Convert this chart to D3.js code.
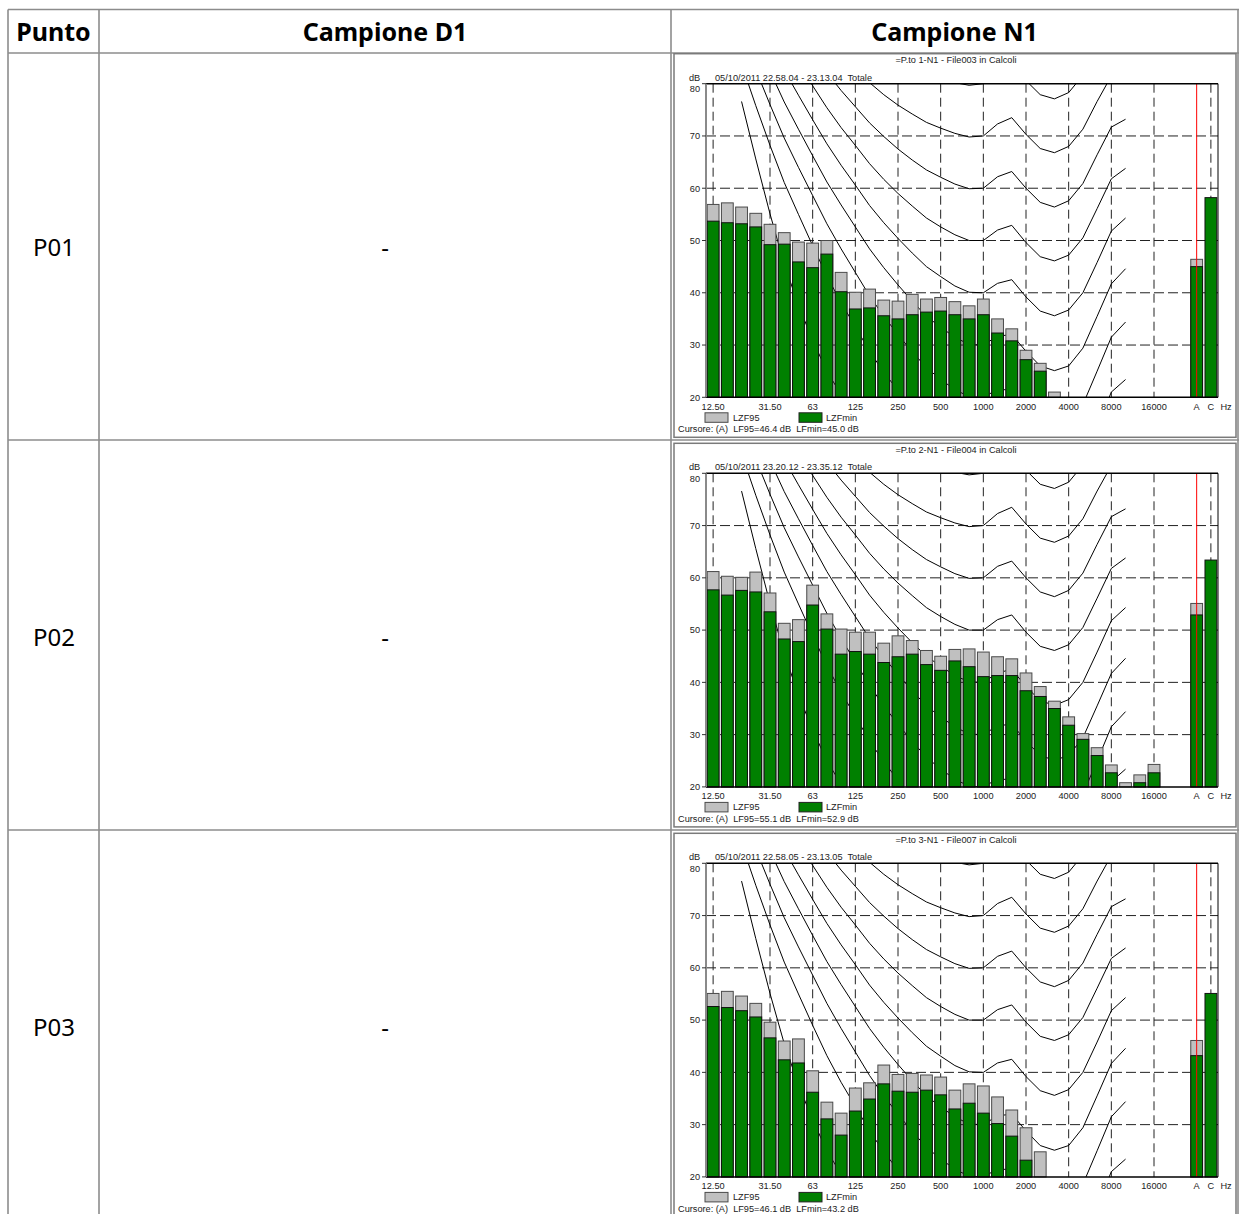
<!DOCTYPE html>
<html lang="it">
<head>
<meta charset="UTF-8">
<title>Campione N1 - spettri</title>
<script src="https://d3js.org/d3.v7.min.js"></script>
<style>
  body { margin: 0; background: #fff; }
  svg { display: block; }
  .hdr { font-family: "Noto Sans", sans-serif; font-weight: bold; font-size: 25px; fill: #000; }
  .cell { font-family: "Noto Sans", sans-serif; font-size: 24px; fill: #000; }
  .small { font-family: "Liberation Sans", Arial, sans-serif; font-size: 9.2px; fill: #222; white-space: pre; }
</style>
</head>
<body>
<svg id="page" width="1239" height="1214"></svg>
<script>
// third-octave bands 12.5 Hz .. 20 kHz (index 0..32), then overall A (34) and C (35)
const bands = ["12.5","16","20","25","31.5","40","50","63","80","100","125","160","200","250","315","400","500","630","800","1000","1250","1600","2000","2500","3150","4000","5000","6300","8000","10000","12500","16000","20000"];
const tickIdx  = [0, 4, 7, 10, 13, 16, 19, 22, 25, 28, 31, 34, 35];
const tickText = ["12.50","31.50","63","125","250","500","1000","2000","4000","8000","16000","A","C"];
const gridIdx  = [0, 4, 7, 10, 13, 16, 19, 22, 25, 28, 31, 35];
const yTicks   = [20, 30, 40, 50, 60, 70, 80];

const points  = ["P01", "P02", "P03"];
const titles  = ["=P.to 1-N1 - File003 in Calcoli", "=P.to 2-N1 - File004 in Calcoli", "=P.to 3-N1 - File007 in Calcoli"];
const periods = ["05/10/2011 22.58.04 - 23.13.04", "05/10/2011 23.20.12 - 23.35.12", "05/10/2011 22.58.05 - 23.13.05"];

// LZF95 / LZFmin per band (dB), null = below the 20 dB floor
const lzf95P01  = [56.9,57.2,56.4,55.2,53.1,51.5,49.7,49.5,50.0,43.9,40.1,40.7,38.6,38.4,39.7,38.8,39.1,38.3,37.5,38.8,35.0,33.1,29.0,26.5,21.0,null,null,null,null,null,null,null,null];
const lzfminP01 = [53.7,53.4,53.2,52.6,49.2,49.3,45.9,44.8,47.4,40.2,36.9,37.1,35.6,35.0,35.8,36.3,36.5,35.8,35.0,35.8,32.3,30.8,27.2,25.0,null,null,null,null,null,null,null,null,null];
const lzf95P02  = [61.2,60.3,60.1,61.1,57.1,51.3,52.0,58.6,53.1,50.2,49.6,49.6,47.5,48.9,48.0,46.1,45.0,46.3,46.4,45.8,44.9,44.5,41.8,39.2,36.4,33.4,30.2,27.5,24.2,20.8,22.3,24.3,null];
const lzfminP02 = [57.7,56.7,57.6,57.3,53.5,48.3,47.8,54.8,50.2,45.4,45.9,45.4,43.8,44.9,45.4,43.4,42.3,44.1,43.0,41.1,41.3,41.3,38.4,37.3,35.0,31.8,29.1,26.0,22.7,null,20.8,22.7,null];
const lzf95P03  = [55.1,55.5,54.6,53.2,49.6,46.0,46.4,40.3,34.3,32.2,37.0,38.0,41.4,39.6,39.8,39.5,39.1,36.6,37.8,37.4,35.3,32.8,29.4,24.8,null,null,null,null,null,null,null,null,null];
const lzfminP03 = [52.6,52.4,51.8,50.6,46.6,42.4,41.8,36.2,31.1,28.0,32.6,34.9,37.8,36.4,36.2,36.6,35.7,33.0,34.1,32.2,30.2,27.8,23.2,null,null,null,null,null,null,null,null,null,null];

// overall levels: A (LF95, LFmin) and C
const totalA95  = [46.4, 55.1, 46.1];
const totalAmin = [45.0, 52.9, 43.2];
const totalC    = [58.2, 63.4, 55.1];

// equal-loudness contours (dB SPL) at 20 Hz .. 10 kHz, band index 2..29
const contourStart = 2;
const phonLevels = [0, 10, 20, 30, 40, 50, 60, 70, 80];
const phon0  = [76.6,65.6,55.1,45.5,37.6,30.9,25.0,20.5,16.7,13.1,10.1,7.5,5.1,3.1,1.5,0.3,-0.3,0.0,1.0,-1.2,-4.1,-7.1,-9.0,-8.5,-4.5,3.3,9.8,10.5];
const phon10 = [83.8,75.8,68.2,61.1,55.0,49.0,43.2,38.1,33.5,28.8,24.8,21.3,18.1,15.1,13.0,11.2,10.0,10.0,11.3,10.4,7.3,4.5,3.0,3.8,7.5,14.4,21.0,23.4];
const phon20 = [89.6,82.7,76.0,69.6,64.0,58.6,53.2,48.4,43.9,39.4,35.5,32.0,28.7,25.7,23.4,21.5,20.1,20.0,21.5,21.4,18.2,15.4,14.3,15.1,18.6,25.0,31.5,34.4];
const phon30 = [94.9,88.5,82.4,76.5,71.3,66.2,61.2,56.8,52.6,48.4,44.8,41.5,38.4,35.5,33.4,31.5,30.1,30.0,31.7,32.0,28.8,26.0,25.1,26.0,29.4,35.5,41.7,44.6];
const phon40 = [99.9,93.9,88.2,82.6,77.8,73.1,68.5,64.4,60.6,56.7,53.4,50.4,47.6,45.0,43.1,41.3,40.1,40.0,41.8,42.5,39.2,36.5,35.6,36.7,40.0,45.8,51.8,54.3];
const phon50 = [104.7,99.2,93.7,88.5,84.0,79.6,75.4,71.6,68.2,64.7,61.7,59.0,56.6,54.3,52.6,51.1,50.0,50.0,52.0,52.9,49.6,46.9,46.1,47.2,50.5,56.1,61.8,63.8];
const phon60 = [109.5,104.2,99.1,94.2,90.0,85.9,82.1,78.7,75.6,72.5,69.9,67.5,65.4,63.5,62.1,60.8,59.9,60.0,62.2,63.2,60.0,57.3,56.4,57.6,60.9,66.4,71.7,73.2];
const phon70 = [114.3,109.2,104.4,99.8,95.9,92.2,88.6,85.6,82.9,80.2,77.9,75.9,74.2,72.6,71.5,70.5,69.8,70.0,72.3,73.5,70.3,67.6,66.8,68.0,71.3,76.6,81.5,82.5];
const phon80 = [119.0,114.2,109.6,105.3,101.7,98.4,95.2,92.5,90.1,87.8,85.9,84.3,82.9,81.7,80.9,80.2,79.7,80.0,82.5,83.7,80.6,77.9,77.1,78.3,81.6,86.8,91.4,91.7];
const contours = [phon0, phon10, phon20, phon30, phon40, phon50, phon60, phon70, phon80];

const spectra95  = [lzf95P01, lzf95P02, lzf95P03];
const spectraMin = [lzfminP01, lzfminP02, lzfminP03];

const svg = d3.select("#page");
const lineCol = "#8c8c8c";

// ---- table ----
const colX = [8, 99, 671, 1238];
const rowY = [9.5, 53, 440, 830];
const table = svg.append("g");
colX.forEach(x => table.append("line").attr("x1", x).attr("x2", x).attr("y1", rowY[0]).attr("y2", 1214)
  .attr("stroke", lineCol).attr("stroke-width", 1.6));
rowY.forEach(y => table.append("line").attr("x1", colX[0]).attr("x2", 1239).attr("y1", y).attr("y2", y)
  .attr("stroke", lineCol).attr("stroke-width", 1.6));

const headers = ["Punto", "Campione D1", "Campione N1"];
headers.forEach((h, i) => {
  table.append("text").attr("class", "hdr")
    .attr("x", (colX[i] + colX[i + 1]) / 2).attr("y", 41)
    .attr("text-anchor", "middle").text(h);
});

const plotTops = [83.7, 473.3, 863.3];
const rowMid = [248, 638, 1028];
points.forEach((p, k) => {
  table.append("text").attr("class", "cell").attr("x", 54).attr("y", rowMid[k] + 8)
    .attr("text-anchor", "middle").text(p);
  table.append("text").attr("class", "cell").attr("x", 385).attr("y", rowMid[k] + 8)
    .attr("text-anchor", "middle").text("-");
});

// ---- spectrum charts ----
const plotLeft = 706, plotRight = 1218, plotH = 313.6;
const x = d3.scaleLinear().domain([-0.5, 35.5]).range([plotLeft, plotRight]);
const barW = (x(1) - x(0)) * 0.83;

const drawChart = (k) => {
  const top = plotTops[k], bottom = top + plotH;
  const y = d3.scaleLinear().domain([20, 80]).range([bottom, top]);
  const g = svg.append("g");

  // frame of the picture
  g.append("rect").attr("x", 674).attr("y", top - 30).attr("width", 562).attr("height", plotH + 70)
    .attr("fill", "#fff").attr("stroke", "#7a7a7a").attr("stroke-width", 1.5);

  g.append("text").attr("class", "small").attr("x", 956).attr("y", top - 20.5)
    .attr("text-anchor", "middle").text(titles[k]);
  g.append("text").attr("class", "small").attr("x", 689).attr("y", top - 3).text("dB");
  g.append("text").attr("class", "small").attr("x", 715).attr("y", top - 3).text(periods[k] + "  Totale");

  const clipId = "clip" + k;
  g.append("clipPath").attr("id", clipId).append("rect")
    .attr("x", plotLeft).attr("y", top).attr("width", plotRight - plotLeft).attr("height", plotH);

  // grid
  g.selectAll("line.hgrid").data(yTicks.filter(v => v > 20 && v < 80)).join("line")
    .attr("x1", plotLeft).attr("x2", plotRight).attr("y1", d => y(d)).attr("y2", d => y(d))
    .attr("stroke", "#222").attr("stroke-width", 1).attr("stroke-dasharray", "10,4");
  g.selectAll("line.vgrid").data(gridIdx).join("line")
    .attr("x1", d => x(d)).attr("x2", d => x(d)).attr("y1", top).attr("y2", bottom)
    .attr("stroke", "#222").attr("stroke-width", 1).attr("stroke-dasharray", "9,5");

  // equal-loudness contours
  const line = d3.line().x(d => x(d.i)).y(d => y(d.v));
  g.append("g").attr("clip-path", `url(#${clipId})`)
    .selectAll("path").data(contours).join("path")
    .attr("d", c => line(c.map((v, j) => ({ i: contourStart + j, v: v }))))
    .attr("fill", "none").attr("stroke", "#000").attr("stroke-width", 1);

  // bars
  const rows = bands.map((b, i) => ({ i: i, hi: spectra95[k][i], lo: spectraMin[k][i] }));
  rows.push({ i: 34, hi: totalA95[k], lo: totalAmin[k] });
  rows.push({ i: 35, hi: null, lo: totalC[k] });

  g.selectAll("rect.l95").data(rows.filter(d => d.hi !== null)).join("rect")
    .attr("x", d => x(d.i) - barW / 2).attr("width", barW)
    .attr("y", d => y(d.hi)).attr("height", d => y(20) - y(d.hi))
    .attr("fill", "#c0c0c0").attr("stroke", "#4a4a4a").attr("stroke-width", 1);
  g.selectAll("rect.lmin").data(rows.filter(d => d.lo !== null)).join("rect")
    .attr("x", d => x(d.i) - barW / 2).attr("width", barW)
    .attr("y", d => y(d.lo)).attr("height", d => y(20) - y(d.lo))
    .attr("fill", "#008000").attr("stroke", "#111").attr("stroke-width", 1);

  // cursor on A
  g.append("line").attr("x1", x(34)).attr("x2", x(34)).attr("y1", top).attr("y2", bottom)
    .attr("stroke", "#ff0000").attr("stroke-width", 1);

  // frame of the plot
  g.append("line").attr("x1", plotLeft).attr("x2", plotRight).attr("y1", top).attr("y2", top)
    .attr("stroke", "#000").attr("stroke-width", 1.5);
  g.append("line").attr("x1", plotRight).attr("x2", plotRight).attr("y1", top).attr("y2", bottom)
    .attr("stroke", "#000").attr("stroke-width", 1);
  g.append("line").attr("x1", plotLeft).attr("x2", plotRight).attr("y1", bottom).attr("y2", bottom)
    .attr("stroke", "#000").attr("stroke-width", 1.5);
  g.append("line").attr("x1", plotLeft).attr("x2", plotLeft).attr("y1", top).attr("y2", bottom)
    .attr("stroke", "#8a8a8a").attr("stroke-width", 2);

  // y axis
  g.selectAll("line.ytick").data(yTicks).join("line")
    .attr("x1", plotLeft - 4).attr("x2", plotLeft).attr("y1", d => y(d)).attr("y2", d => y(d))
    .attr("stroke", "#333");
  g.selectAll("text.ylab").data(yTicks).join("text").attr("class", "small")
    .attr("x", 700).attr("y", d => Math.max(y(d), top + 5) + 3.3)
    .attr("text-anchor", "end").text(d => d);

  // x axis labels
  g.selectAll("text.xlab").data(tickIdx).join("text").attr("class", "small")
    .attr("x", (d, j) => x(d)).attr("y", bottom + 12.5)
    .attr("text-anchor", "middle").text((d, j) => tickText[j]);
  g.append("text").attr("class", "small").attr("x", 1226).attr("y", bottom + 12.5)
    .attr("text-anchor", "middle").text("Hz");

  // legend
  g.append("rect").attr("x", 705).attr("y", bottom + 15.5).attr("width", 23).attr("height", 9.5)
    .attr("fill", "#c0c0c0").attr("stroke", "#4a4a4a");
  g.append("text").attr("class", "small").attr("x", 733).attr("y", bottom + 23.5).text("LZF95");
  g.append("rect").attr("x", 799).attr("y", bottom + 15.5).attr("width", 23).attr("height", 9.5)
    .attr("fill", "#008000").attr("stroke", "#222");
  g.append("text").attr("class", "small").attr("x", 826).attr("y", bottom + 23.5).text("LZFmin");

  g.append("text").attr("class", "small").attr("x", 678).attr("y", bottom + 34.8)
    .text(`Cursore: (A)  LF95=${totalA95[k].toFixed(1)} dB  LFmin=${totalAmin[k].toFixed(1)} dB`);
};

points.forEach((p, k) => drawChart(k));
</script>
</body>
</html>
